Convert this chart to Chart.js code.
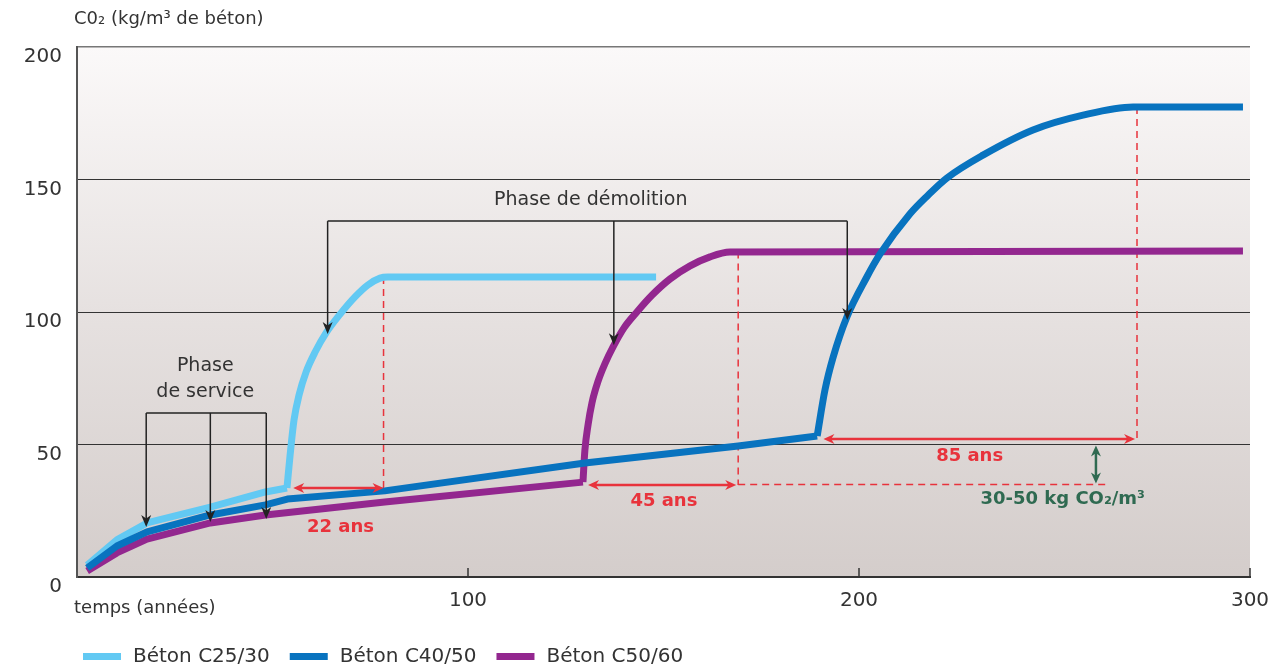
<!DOCTYPE html>
<html><head><meta charset="utf-8">
<script src="https://cdn.jsdelivr.net/npm/chart.js@4/dist/chart.umd.min.js"></script>
<style>html,body{margin:0;padding:0;background:#fff;}#wrap{width:1271px;height:670px;}</style>
</head><body><div id="wrap"><canvas id="c" width="1271" height="670"></canvas></div>
<script>
// ---- data (years, kg CO2 / m3) ----
const seriesLabels = ['Béton C25/30', 'Béton C40/50', 'Béton C50/60'];
// service phase (carbonation in use)
const c2530ServiceX = [2.6,10.2,17.9,34.1,48.2,53.7];
const c2530ServiceY = [4.5,14.0,20.4,26.4,32.1,33.6];
const c4050ServiceX = [2.6,10.2,17.9,34.1,48.2,53.8,78.7,129.9,169.1,189.3];
const c4050ServiceY = [3.4,11.7,17.0,23.4,27.2,29.4,32.5,43.0,49.4,53.2];
const c5060ServiceX = [2.6,10.2,17.9,34.1,48.2,78.7,129.4];
const c5060ServiceY = [2.3,9.1,14.3,20.4,23.4,28.3,35.8];
// demolition phase (crushed concrete)
const c2530DemolX = [53.7,54.5,55.5,56.8,58.6,60.9,63.7,67.3,71.1,74.4,77.5,79.5,148.1];
const c2530DemolY = [33.6,46.0,59.2,68.7,77.4,84.9,92.1,99.2,105.7,110.2,112.8,113.2,113.2];
const c4050DemolX = [189.3,191.3,193.4,196.9,202.0,205.4,213.0,217.6,222.5,231.7,244.5,257.3,270.1,298.2];
const c4050DemolY = [53.2,70.6,83.0,98.1,113.2,121.9,137.0,144.0,150.6,159.2,168.7,174.3,177.4,177.4];
const c5060DemolX = [129.4,129.9,130.7,131.7,133.2,135.0,137.1,139.9,143.2,147.1,151.7,156.8,161.9,167.0,298.2];
const c5060DemolY = [35.8,47.9,57.4,65.7,73.6,80.4,86.8,94.0,100.0,106.4,112.5,117.4,120.8,122.6,123.0];
const yTicks = [0, 50, 100, 150, 200];
const xTicks = [100, 200, 300];

// annotations (data units)
const serviceText = ['Phase', 'de service'];
const serviceTextPos = [[32.8, 79.6], [32.8, 69.8]];
const serviceBarY = 61.9;
const serviceArrowX = [17.7, 34.1, 48.4];
const serviceArrowTipY = [18.9, 20.8, 21.9];
const demolitionText = 'Phase de démolition';
const demolitionTextPos = [131.4, 142.3];
const demolitionBarY = 134.3;
const demolitionArrowX = [64.1, 137.3, 197.0];
const demolitionArrowTipY = [91.7, 87.5, 97.0];
const dashedV = [[78.4, 113.2, 33.6], [169.1, 122.8, 34.7], [271.1, 177.4, 52.1]];
const dashedH = [34.9, 169.1, 263.4];
const durationArrows = [[33.6, 55.3, 78.4], [34.7, 130.7, 168.6], [52.1, 190.9, 270.6]];
const durationLabels = ['22 ans', '45 ans', '85 ans'];
const durationLabelPos = [[67.4, 18.9], [150.1, 28.7], [228.3, 45.7]];
const rangeArrow = [260.6, 49.6, 35.3];
const rangeLabel = '30-50 kg CO₂/m³';
const rangeLabelPos = [252.1, 29.4];

const colors = ['#62c9f3', '#0873bf', '#93278f'];
const RED = '#e8333c', GREEN = '#2f6a51', INK = '#222';
const FONT = '"DejaVu Sans", sans-serif';

function pts(xs, ys) { return xs.map((x, i) => ({x, y: ys[i]})); }

function head(ctx, x, y, ang, len, hw) {
  ctx.save(); ctx.translate(x, y); ctx.rotate(ang);
  ctx.beginPath(); ctx.moveTo(0, 0); ctx.lineTo(-len, -hw); ctx.lineTo(-len * 0.7, 0); ctx.lineTo(-len, hw); ctx.closePath();
  ctx.fill(); ctx.restore();
}

const bgPlugin = {
  id: 'bg',
  beforeDraw(chart) {
    const {ctx, chartArea: a} = chart;
    const g = ctx.createLinearGradient(0, a.top, 0, a.bottom);
    g.addColorStop(0, '#fbf9f9');
    g.addColorStop(0.5, '#e6e1e0');
    g.addColorStop(1, '#d4cdcb');
    ctx.save(); ctx.fillStyle = g; ctx.fillRect(a.left, a.top, a.right - a.left, a.bottom - a.top); ctx.restore();
  }
};

const dashPlugin = {
  id: 'dashes',
  beforeDatasetsDraw(chart) {
    const {ctx, scales: {x, y}} = chart;
    ctx.save(); ctx.strokeStyle = RED; ctx.lineWidth = 1.5; ctx.setLineDash([7, 5]);
    dashedV.forEach(([xv, y1, y2]) => {
      ctx.beginPath(); ctx.moveTo(x.getPixelForValue(xv), y.getPixelForValue(y1));
      ctx.lineTo(x.getPixelForValue(xv), y.getPixelForValue(y2)); ctx.stroke();
    });
    ctx.beginPath(); ctx.moveTo(x.getPixelForValue(dashedH[1]), y.getPixelForValue(dashedH[0]));
    ctx.lineTo(x.getPixelForValue(dashedH[2]), y.getPixelForValue(dashedH[0])); ctx.stroke();
    ctx.restore();
  }
};

const annPlugin = {
  id: 'ann',
  afterDatasetsDraw(chart) {
    const {ctx, scales: {x, y}, chartArea: a} = chart;
    const px = v => x.getPixelForValue(v), py = v => y.getPixelForValue(v);
    ctx.save();
    // x inner ticks
    ctx.strokeStyle = '#333'; ctx.lineWidth = 1.5;
    xTicks.forEach(t => { ctx.beginPath(); ctx.moveTo(px(t), a.bottom); ctx.lineTo(px(t), a.bottom - 9); ctx.stroke(); });
    // brackets
    ctx.strokeStyle = INK; ctx.fillStyle = INK; ctx.lineWidth = 1.5;
    [[serviceBarY, serviceArrowX, serviceArrowTipY], [demolitionBarY, demolitionArrowX, demolitionArrowTipY]].forEach(([by, xs, tips]) => {
      ctx.beginPath(); ctx.moveTo(px(xs[0]), py(by)); ctx.lineTo(px(xs[xs.length - 1]), py(by)); ctx.stroke();
      xs.forEach((xv, i) => {
        ctx.beginPath(); ctx.moveTo(px(xv), py(by)); ctx.lineTo(px(xv), py(tips[i]) - 6); ctx.stroke();
        head(ctx, px(xv), py(tips[i]), Math.PI / 2, 12, 5);
      });
    });
    // duration arrows
    ctx.strokeStyle = RED; ctx.fillStyle = RED; ctx.lineWidth = 2.5;
    durationArrows.forEach(([yv, x1, x2]) => {
      ctx.beginPath(); ctx.moveTo(px(x1) + 5, py(yv)); ctx.lineTo(px(x2) - 5, py(yv)); ctx.stroke();
      head(ctx, px(x1), py(yv), Math.PI, 11, 5);
      head(ctx, px(x2), py(yv), 0, 11, 5);
    });
    // range arrow
    ctx.strokeStyle = GREEN; ctx.fillStyle = GREEN;
    ctx.beginPath(); ctx.moveTo(px(rangeArrow[0]), py(rangeArrow[1]) + 5); ctx.lineTo(px(rangeArrow[0]), py(rangeArrow[2]) - 5); ctx.stroke();
    head(ctx, px(rangeArrow[0]), py(rangeArrow[1]), -Math.PI / 2, 11, 5);
    head(ctx, px(rangeArrow[0]), py(rangeArrow[2]), Math.PI / 2, 11, 5);
    // texts
    ctx.textAlign = 'center'; ctx.textBaseline = 'middle';
    ctx.fillStyle = '#333'; ctx.font = '19px ' + FONT;
    serviceText.forEach((t, i) => ctx.fillText(t, px(serviceTextPos[i][0]), py(serviceTextPos[i][1])));
    ctx.fillText(demolitionText, px(demolitionTextPos[0]), py(demolitionTextPos[1]));
    ctx.fillStyle = RED; ctx.font = 'bold 18px ' + FONT;
    durationLabels.forEach((t, i) => ctx.fillText(t, px(durationLabelPos[i][0]), py(durationLabelPos[i][1])));
    ctx.fillStyle = GREEN;
    ctx.fillText(rangeLabel, px(rangeLabelPos[0]), py(rangeLabelPos[1]));
    // axis titles
    ctx.fillStyle = '#333'; ctx.textAlign = 'left'; ctx.font = '18px ' + FONT;
    ctx.fillText('C0₂ (kg/m³ de béton)', a.left - 3, 19);
    ctx.fillText('temps (années)', a.left - 3, 608);
    // legend
    ctx.font = '20px ' + FONT;
    let lx = 83;
    seriesLabels.forEach((t, i) => {
      ctx.fillStyle = colors[i]; ctx.fillRect(lx, 653, 38, 7);
      ctx.fillStyle = '#333'; ctx.fillText(t, lx + 50, 657);
      lx += 50 + ctx.measureText(t).width + 20;
    });
    ctx.restore();
  }
};

const ds = (i, xs, ys, order, curved) => ({
  label: seriesLabels[i], data: pts(xs, ys), borderColor: colors[i], backgroundColor: colors[i],
  borderWidth: 7, pointRadius: 0, order, borderJoinStyle: 'round', borderCapStyle: 'butt',
  tension: 0, cubicInterpolationMode: curved ? 'monotone' : 'default'
});

new Chart(document.getElementById('c'), {
  type: 'line',
  data: { datasets: [
    ds(0, c2530ServiceX, c2530ServiceY, 1, false), ds(0, c2530DemolX, c2530DemolY, 1, true),
    ds(1, c4050ServiceX, c4050ServiceY, 0, false), ds(1, c4050DemolX, c4050DemolY, 0, true),
    ds(2, c5060ServiceX, c5060ServiceY, 2, false), ds(2, c5060DemolX, c5060DemolY, 2, true)
  ] },
  options: {
    responsive: false, animation: false, devicePixelRatio: 1,
    layout: { padding: { left: 0, right: 21, top: 47, bottom: 0 } },
    plugins: { legend: { display: false }, tooltip: { enabled: false } },
    scales: {
      x: {
        type: 'linear', min: 0, max: 300,
        afterFit: s => { s.height = 93; s.paddingRight = 0; s.paddingLeft = 0; },
        afterBuildTicks: s => { s.ticks = xTicks.map(v => ({value: v})); },
        grid: { display: true, drawOnChartArea: false, drawTicks: false },
        border: { display: true, color: '#333', width: 2 },
        ticks: { padding: 12, color: '#333', font: { family: FONT, size: 20 }, maxRotation: 0 }
      },
      y: {
        min: 0, max: 200,
        afterFit: s => { s.width = 77; s.paddingTop = 0; s.paddingBottom = 0; },
        afterBuildTicks: s => { s.ticks = yTicks.map(v => ({value: v})); },
        grid: { drawTicks: false, color: c => c.tick && c.tick.value === 200 ? '#777' : '#333', lineWidth: c => c.tick && c.tick.value === 200 ? 1.5 : 1 },
        border: { display: true, color: '#555', width: 2 },
        ticks: { padding: 15, labelOffset: 10, color: '#333', font: { family: FONT, size: 20 } }
      }
    }
  },
  plugins: [bgPlugin, dashPlugin, annPlugin]
});
</script></body></html>
